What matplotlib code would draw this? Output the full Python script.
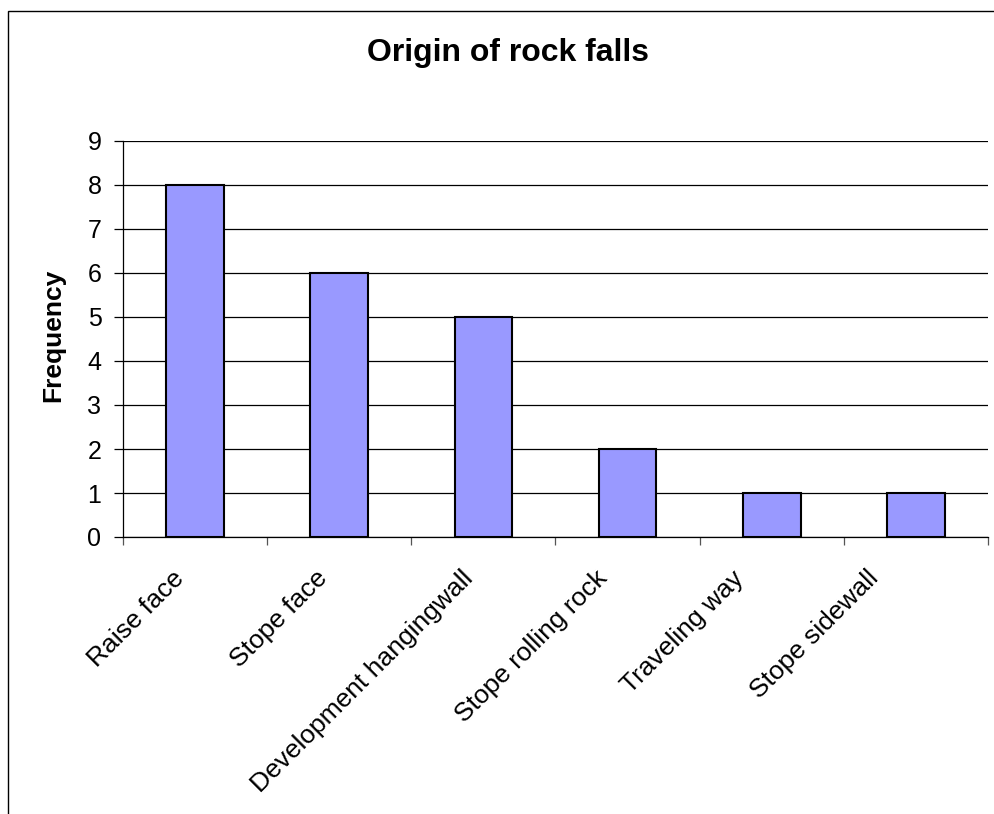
import matplotlib
matplotlib.use("Agg")
import matplotlib.pyplot as plt
from matplotlib.patches import Rectangle

plt.rcParams['font.family'] = ['Liberation Sans', 'DejaVu Sans']

categories = ["Raise face", "Stope face", "Development hangingwall",
              "Stope rolling rock", "Traveling way", "Stope sidewall"]
frequency = [8, 6, 5, 2, 1, 1]
y_ticks = list(range(0, 10))

W, H = 995, 814
fig = plt.figure(figsize=(W / 100, H / 100), dpi=100)

# outer chart frame (cut off on the right and bottom)
frame = Rectangle((8 / W, -0.1), 1.2, 1 - 11 / H + 0.1, transform=fig.transFigure,
                  fill=False, edgecolor='black', linewidth=1.0)
fig.patches.append(frame)

ax = fig.add_axes([123 / W, 1 - 537 / H, (988 - 123) / W, (537 - 141) / H])

x = list(range(len(categories)))
ax.bar(x, frequency, width=0.4, color='#9999FF', edgecolor='black', linewidth=1.5, zorder=3)

ax.set_xlim(-0.5, len(categories) - 0.5)
ax.set_ylim(0, 9)
ax.set_yticks(y_ticks)
ax.set_yticklabels([str(v) for v in y_ticks], fontsize=18)
ax.yaxis.grid(True, color='black', linewidth=0.9, zorder=0)
ax.tick_params(axis='y', length=6.5, width=0.9, pad=9)

# category ticks sit between the bars
ax.set_xticks([i - 0.5 for i in range(len(categories) + 1)])
ax.set_xticklabels([])
ax.tick_params(axis='x', length=6, width=0.9, color='#555555')

# rotated category labels, ends pulled a little left like the original
label_shift = [-23, -24, -23, -32, -40, -50]  # px
for i, name in enumerate(categories):
    ax.annotate(name, xy=(i, 0), xycoords=('data', 'axes fraction'),
                xytext=(label_shift[i] * 0.72, -21), textcoords='offset points',
                rotation=45, ha='right', va='top', rotation_mode='anchor', fontsize=19)

for side in ['top', 'right']:
    ax.spines[side].set_visible(False)
ax.spines['left'].set_linewidth(0.9)
ax.spines['bottom'].set_linewidth(0.9)

ax.set_ylabel("Frequency", fontsize=19, fontweight='bold')
ax.yaxis.set_label_coords((65 - 123) / 865, 0.51)
fig.text(508 / W, 1 - 53 / H, "Origin of rock falls", ha='center', va='center',
         fontsize=23, fontweight='bold')

fig.savefig("out.png", dpi=100)
